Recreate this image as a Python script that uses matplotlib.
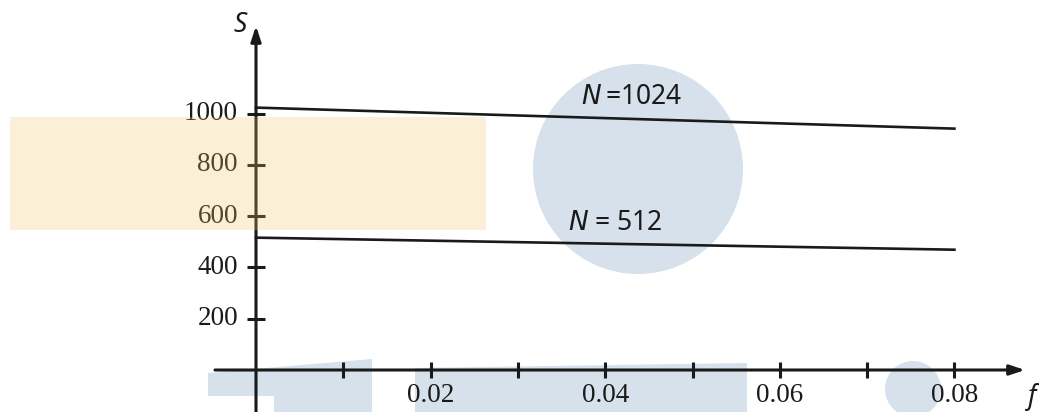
import matplotlib
matplotlib.use("Agg")
import matplotlib.pyplot as plt
from matplotlib.patches import Rectangle, Circle, Polygon

# data
f_vals = [0.0, 0.08]
s_1024 = [1023, 941]
s_512 = [516, 469]
x_ticks = [0.01, 0.02, 0.03, 0.04, 0.05, 0.06, 0.07, 0.08]
x_labeled = [0.02, 0.04, 0.06, 0.08]
y_ticks = [200, 400, 600, 800, 1000]

W, H = 1039, 412
fig = plt.figure(figsize=(W / 100, H / 100), dpi=100)

# pixel mapping: origin at (256, 370), 87.3 px per 0.01, 0.2565 px per unit S
x0, y0 = 256.0, 370.0
px_x = 8730.0
px_y = 0.2565
ax = fig.add_axes([0, 0, 1, 1])
ax.set_xlim(-x0 / px_x, (W - x0) / px_x)
ax.set_ylim(-(H - y0) / px_y, y0 / px_y)
ax.axis("off")

# decoration layer in pixel coordinates
deco = fig.add_axes([0, 0, 1, 1], zorder=-1)
deco.set_xlim(0, W)
deco.set_ylim(H, 0)
deco.axis("off")
blue = "#d6e1eb"
deco.add_patch(Circle((638, 169), 105, color=blue, lw=0))
deco.add_patch(Circle((913, 389), 28, color=blue, lw=0))
deco.add_patch(Polygon([(208, 373), (372, 359), (372, 412), (274, 412), (274, 396), (208, 396)],
                       closed=True, color=blue, lw=0))
deco.add_patch(Polygon([(415, 368), (747, 363), (747, 412), (415, 412)], closed=True, color=blue, lw=0))

ink = "#1a1a1a"
# axes with arrows
xmin_ax = -(x0 - 215) / px_x
xmax_ax = (1025 - x0) / px_x
ymin_ax = -(H - y0) / px_y
ymax_ax = (y0 - 26) / px_y
ax.annotate("", xy=(xmax_ax, 0), xytext=(xmin_ax, 0),
            arrowprops=dict(arrowstyle="-|>,head_length=0.9,head_width=0.3", lw=2.2, color=ink,
                            shrinkA=0, shrinkB=0))
ax.annotate("", xy=(0, ymax_ax), xytext=(0, ymin_ax),
            arrowprops=dict(arrowstyle="-|>,head_length=0.9,head_width=0.3", lw=2.2, color=ink,
                            shrinkA=0, shrinkB=0))

# ticks
tx = 8 / px_y
for xv in x_ticks:
    ax.plot([xv, xv], [-tx, tx], color=ink, lw=2.2, solid_capstyle="butt")
for xv in x_labeled:
    ax.text(xv, -26 / px_y, f"{xv:.2f}", ha="center", va="center", fontsize=19.5,
            family="Liberation Serif", color=ink)
ty = 9 / px_x
for yv in y_ticks:
    ax.plot([-ty, ty], [yv, yv], color=ink, lw=2.2, solid_capstyle="butt")
    ax.text(-18 / px_x, yv, str(yv), ha="right", va="center", fontsize=19.5,
            family="Liberation Serif", color=ink)

# curves
ax.plot(f_vals, s_1024, color=ink, lw=1.9)
ax.plot(f_vals, s_512, color=ink, lw=1.9)

ax.text(0.0430, 1064, "$\\mathit{N}$$\\,$=1024", ha="center", va="center", fontsize=19,
        family="Noto Sans", color=ink)
ax.text(0.0411, 573, "$\\mathit{N}$ = 512", ha="center", va="center", fontsize=19,
        family="Noto Sans", color=ink)
ax.text(-16 / px_x, 1345, "S", ha="center", va="center", fontsize=19, style="italic",
        family="Noto Sans", color=ink)
ax.text((1032 - x0) / px_x, -27 / px_y, "f", ha="center", va="center", fontsize=19,
        style="italic", family="Noto Sans", color=ink)

# translucent yellow band over the axis
ax.add_patch(Rectangle((-(x0 - 10) / px_x, (y0 - 230) / px_y), 476 / px_x, 113 / px_y,
                       facecolor="#f5c469", alpha=0.26, lw=0, zorder=5))

fig.savefig("out.png", dpi=100)
